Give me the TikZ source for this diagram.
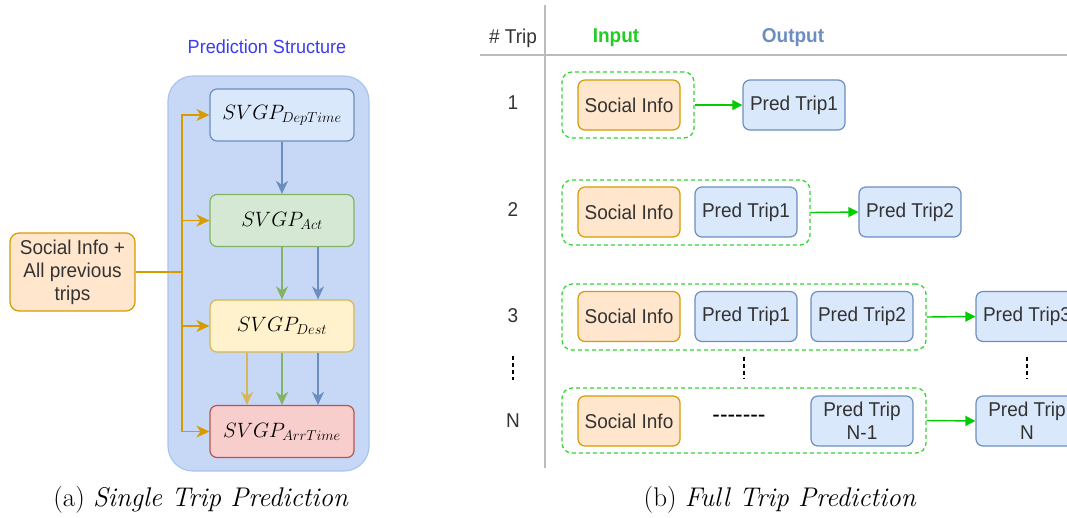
\documentclass[tikz,border=0pt]{standalone}
\usepackage{fontspec}
\newfontfamily\dsans[FakeStretch=0.95]{Liberation Sans}
\usetikzlibrary{arrows.meta}
\definecolor{ofill}{HTML}{FFE6CC}
\definecolor{oline}{HTML}{D79B00}
\definecolor{bfill}{HTML}{DAE8FC}
\definecolor{bline}{HTML}{6C8EBF}
\definecolor{gfill}{HTML}{D5E8D4}
\definecolor{gline}{HTML}{82B366}
\definecolor{yfill}{HTML}{FFF2CC}
\definecolor{yline}{HTML}{D6B656}
\definecolor{rfill}{HTML}{F8CECC}
\definecolor{rline}{HTML}{B85450}
\definecolor{cfill}{HTML}{C7D8F7}
\definecolor{cline}{HTML}{A9C4EE}
\definecolor{agreen}{HTML}{00CC00}
\definecolor{igreen}{HTML}{22CC22}
\definecolor{pblue}{HTML}{3B3BF5}
\definecolor{sepgray}{HTML}{BBBBBB}
\definecolor{txt}{HTML}{333333}
\tikzset{
  sanstext/.style={font={\dsans\fontsize{20}{23}\selectfont}, text=txt},
  tripbox/.style={sanstext, draw, rounded corners=7pt, line width=1.2pt, minimum width=102pt, minimum height=50pt, inner sep=0pt, align=center},
  obox/.style={tripbox, fill=ofill, draw=oline},
  bbox/.style={tripbox, fill=bfill, draw=bline},
  grp/.style={draw=agreen!80, dash pattern=on 4pt off 3pt, rounded corners=10pt, line width=1.3pt, inner sep=0pt},
  garrow/.style={draw=agreen, line width=1.4pt, -{Triangle[length=10pt,width=10pt]}},
  svgp/.style={draw, rounded corners=7pt, line width=1.2pt, minimum width=144pt, minimum height=52pt, inner sep=0pt, font={\fontsize{22}{26}\selectfont}},
  farrow/.style={line width=1.4pt, -{Stealth[length=13pt,width=12pt,inset=4pt]}},
  vdots/.style={line width=1.1pt, dash pattern=on 4pt off 3pt},
  capt/.style={font={\fontsize{27}{32}\selectfont}}
}
\begin{document}
\begin{tikzpicture}[x=1pt,y=-1pt]
\useasboundingbox (0,0) rectangle (1067,517);
\clip (0,0) rectangle (1067,517);
% ---------- (a) single trip prediction ----------
\node[text=pblue, font={\dsans\fontsize{19}{22}\selectfont}] (ptitle) at (267,47) {Prediction Structure};
\node[draw=cline, fill=cfill, line width=1.2pt, rounded corners=25pt, minimum width=201pt, minimum height=395pt] (cont) at (268.5,273.5) {};
\node[svgp, fill=bfill, draw=bline] (dep) at (282,115) {$SVGP_{DepTime}$};
\node[svgp, fill=gfill, draw=gline] (act) at (282,220.5) {$SVGP_{Act}$};
\node[svgp, fill=yfill, draw=yline] (dest) at (282,326) {$SVGP_{Dest}$};
\node[svgp, fill=rfill, draw=rline] (arr) at (282,431.5) {$SVGP_{ArrTime}$};
\node[sanstext, draw=oline, fill=ofill, line width=1.2pt, rounded corners=9pt, minimum width=125pt, minimum height=78pt, inner sep=0pt, align=center] (src) at (72.5,272) {Social Info +\\All previous\\trips};
\coordinate (j) at (182,272);
\draw[oline, line width=1.4pt] (src.east) -- (j);
\draw[farrow, oline] (j) |- (dep.west);
\draw[farrow, oline] (j) |- (act.west);
\draw[farrow, oline] (j) |- (dest.west);
\draw[farrow, oline] (j) |- (arr.west);
\draw[farrow, bline] (dep.south) -- (act.north);
\draw[farrow, gline] (act.south) -- (dest.north);
\draw[farrow, bline] ([xshift=36pt]act.south) -- ([xshift=36pt]dest.north);
\draw[farrow, yline] ([xshift=-35pt]dest.south) -- ([xshift=-35pt]arr.north);
\draw[farrow, gline] (dest.south) -- (arr.north);
\draw[farrow, bline] ([xshift=36pt]dest.south) -- ([xshift=36pt]arr.north);
\node[capt] (capa) at (201,500) {(a) \textit{Single Trip Prediction}};
% ---------- (b) full trip prediction ----------
\coordinate (vtop) at (545,5);
\coordinate (vbot) at (545,468);
\coordinate (hl) at (480,55);
\coordinate (hr) at (1067,55);
\draw[sepgray, line width=1.5pt] (vtop) -- (vbot);
\draw[sepgray, line width=1.5pt] (hl) -- (hr);
\node[sanstext] (htrip) at (513,38) {\# Trip};
\node[font={\dsans\bfseries\fontsize{20}{23}\selectfont}, text=igreen] (hin) at (616,38) {Input};
\node[font={\dsans\bfseries\fontsize{20}{23}\selectfont}, text=bline] (hout) at (793,38) {Output};
\node[sanstext] (r1) at (513,103) {1};
\node[sanstext] (r2) at (513,210) {2};
\node[sanstext] (r3) at (513,316) {3};
\node[sanstext] (rn) at (513,421) {N};
% row 1
\node[grp, minimum width=132pt, minimum height=66pt] (g1) at (628,105) {};
\node[obox] (s1) at (629,105) {Social Info};
\node[bbox] (o1) at (794,105) {Pred Trip1};
\draw[garrow] (g1.east) -- (o1.west);
% row 2
\node[grp, minimum width=248pt, minimum height=65pt] (g2) at (686,212.5) {};
\node[obox] (s2) at (629,212) {Social Info};
\node[bbox] (p21) at (746,212) {Pred Trip1};
\node[bbox] (o2) at (910,212) {Pred Trip2};
\draw[garrow] (g2.east) -- (o2.west);
% row 3
\node[grp, minimum width=364pt, minimum height=66pt] (g3) at (744,317) {};
\node[obox] (s3) at (629,316.5) {Social Info};
\node[bbox] (p31) at (746,316.5) {Pred Trip1};
\node[bbox] (p32) at (862,316.5) {Pred Trip2};
\node[bbox] (o3) at (1027,316.5) {Pred Trip3};
\draw[garrow] (g3.east) -- (o3.west);
% row N
\node[grp, minimum width=364pt, minimum height=65pt] (gn) at (744,420.5) {};
\node[obox] (sn) at (629,421) {Social Info};
\node[font={\dsans\fontsize{24}{26}\selectfont}, text=black] (dd) at (739,419) {-------};
\node[bbox] (pn1) at (862,421) {Pred Trip\\N-1};
\node[bbox] (on) at (1027,421) {Pred Trip\\N};
\draw[garrow] (gn.east) -- (on.west);
% vertical ellipses
\coordinate (d1a) at (513,356);
\coordinate (d1b) at (513,380);
\draw[vdots] (d1a) -- (d1b);
\draw[vdots] ([yshift=-6pt]g3.south) -- ([yshift=8pt]gn.north);
\draw[vdots] ([yshift=-15pt]o3.south) -- ([yshift=16pt]on.north);
\node[capt] (capb) at (780,500) {(b) \textit{Full Trip Prediction}};
\end{tikzpicture}
\end{document}
